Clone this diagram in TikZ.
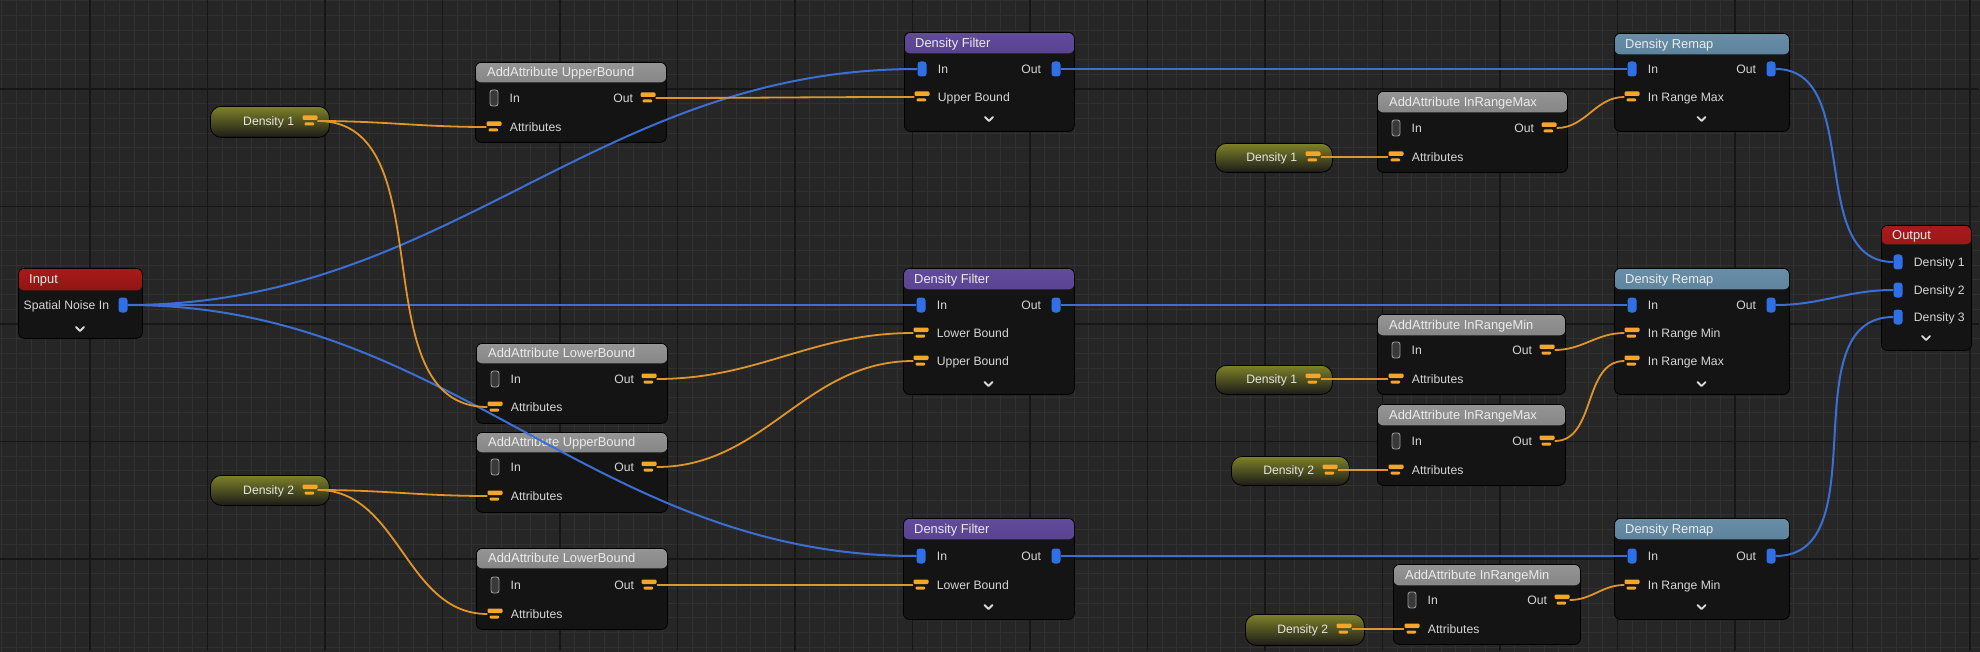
\documentclass[tikz,border=0pt]{standalone}
\usepackage{fontspec}
\setmainfont{Liberation Sans}
\usetikzlibrary{positioning}
\definecolor{gridbg}{HTML}{262626}
\definecolor{gridminor}{HTML}{313131}
\definecolor{gridmajor}{HTML}{161616}
\definecolor{nodebg}{HTML}{141414}
\definecolor{wireblue}{HTML}{3B6FD4}
\definecolor{wireorange}{HTML}{E0952B}
\definecolor{pinblue}{HTML}{2F70E8}
\definecolor{pinorange}{HTML}{F5A52A}
\definecolor{txtgray}{HTML}{D6D6D6}
\definecolor{hdrgraytop}{HTML}{959595}
\definecolor{hdrgraybot}{HTML}{5A5A5A}
\definecolor{hdrpurptop}{HTML}{624A9C}
\definecolor{hdrpurpbot}{HTML}{3A2766}
\definecolor{hdrbluetop}{HTML}{688EA8}
\definecolor{hdrbluebot}{HTML}{36566E}
\definecolor{hdrredtop}{HTML}{A81A1A}
\definecolor{hdrredbot}{HTML}{5E0909}
\definecolor{pilltop}{HTML}{7E8228}
\definecolor{pillmid}{HTML}{2F3022}
\definecolor{pillbot}{HTML}{1B1B19}

\begin{document}
\begin{tikzpicture}[
  x=1pt, y=-1pt,
  body/.style 2 args={rectangle, rounded corners=6pt, anchor=north west,
                 inner sep=0pt, minimum width=#1, minimum height=#2,
                 draw=black, line width=0.8pt, fill=nodebg},
  hdr/.style n args={3}{path picture={\shade[top color=#1, bottom color=#2]
      (path picture bounding box.north west) rectangle
      ([yshift=-#3]path picture bounding box.north east);}},
  const/.style 2 args={rectangle, rounded corners=11pt, anchor=north west,
                 inner sep=0pt, minimum width=#1, minimum height=#2,
                 draw=black, line width=0.8pt,
                 top color=pilltop, middle color=pillmid, bottom color=pillbot},
  htxt/.style={anchor=west, inner sep=0pt, text=white!92!black,
               font=\fontsize{12.9}{13}\selectfont, text height=9.2pt, text depth=0pt},
  lbl/.style={inner sep=0pt, text=txtgray,
              font=\fontsize{12.2}{13}\selectfont, text height=8.7pt, text depth=0pt},
  bpin/.style={rectangle, rounded corners=3pt, minimum width=9pt,
               minimum height=15pt, inner sep=0pt, fill=pinblue},
  gpin/.style={rectangle, rounded corners=2.5pt, minimum width=8pt,
               minimum height=16pt, inner sep=0pt, fill=gray!45!black,
               draw=gray!80, line width=0.9pt},
  opin/.style={rectangle, minimum width=15pt, minimum height=11pt, inner sep=0pt,
               path picture={
                 \fill[pinorange, rounded corners=1.2pt]
                   ([xshift=-7.5pt, yshift=5.5pt]path picture bounding box.center) rectangle
                   ([xshift=7.5pt, yshift=1pt]path picture bounding box.center);
                 \fill[pinorange, rounded corners=1pt]
                   ([xshift=-5.5pt, yshift=-1.5pt]path picture bounding box.center) rectangle
                   ([xshift=4pt, yshift=-4.5pt]path picture bounding box.center);}},
  chev/.style={draw=white!85!black, line width=1.8pt, line cap=round, line join=round},
  bw/.style={draw=wireblue, line width=2pt},
  ow/.style={draw=wireorange, line width=1.8pt}
]
\useasboundingbox (0,0) rectangle (1980,652);

% === Canvas: minor grid every 1/8 of a major cell (117.5px) ===
\fill[gridbg] (0,0) rectangle (1980,652);
\begin{scope}[shift={(1.875,0.875)}]
  \draw[gridminor, line width=1pt, step=14.6875pt] (-1.875,-0.875) grid (1978,651);
\end{scope}
\begin{scope}[shift={(90,89)}]
  \draw[gridmajor, line width=1.6pt, step=117.5pt] (-90,-89) grid (1889,562);
\end{scope}

% === Input ===
\node[body={124pt}{70pt}, hdr={hdrredtop}{hdrredbot}{22pt}] (inp) at (18,268) {};
\node[htxt] (inp-t) at (29,279) {Input};
\node[bpin] (inp-out) at (123,305) {};
\node[lbl, left=9pt of inp-out] (inp-l) {Spatial Noise In};
\draw[chev] (76,327) -- (80,331) -- (84,327);

% === Constants, left column ===
\node[const={119pt}{31pt}] (d1a) at (210,106) {};
\node[opin] (d1a-out) at (310,121) {};
\node[lbl, left=8pt of d1a-out, text=white!90!black] (d1a-l) {Density 1};

\node[const={119pt}{30pt}] (d2a) at (210,475) {};
\node[opin] (d2a-out) at (310,490) {};
\node[lbl, left=8pt of d2a-out, text=white!90!black] (d2a-l) {Density 2};

% === AddAttribute nodes, left column ===
\node[body={191pt}{80pt}, hdr={hdrgraytop}{hdrgraybot}{20pt}] (ubA) at (475,62) {};
\node[htxt] (ubA-t) at (487,72) {AddAttribute UpperBound};
\node[gpin] (ubA-in) at (494,98) {};
\node[opin] (ubA-out) at (648,98) {};
\node[opin] (ubA-attr) at (494,127) {};
\node[lbl, right=11pt of ubA-in] (ubA-l1) {In};
\node[lbl, left=7pt of ubA-out] (ubA-l2) {Out};
\node[lbl, right=8pt of ubA-attr] (ubA-l3) {Attributes};

\node[body={191pt}{80pt}, hdr={hdrgraytop}{hdrgraybot}{20pt}] (lbA) at (476,343) {};
\node[htxt] (lbA-t) at (488,353) {AddAttribute LowerBound};
\node[gpin] (lbA-in) at (495,379) {};
\node[opin] (lbA-out) at (649,379) {};
\node[opin] (lbA-attr) at (495,407) {};
\node[lbl, right=11pt of lbA-in] (lbA-l1) {In};
\node[lbl, left=7pt of lbA-out] (lbA-l2) {Out};
\node[lbl, right=8pt of lbA-attr] (lbA-l3) {Attributes};

\node[body={191pt}{80pt}, hdr={hdrgraytop}{hdrgraybot}{20pt}] (ubB) at (476,432) {};
\node[htxt] (ubB-t) at (488,442) {AddAttribute UpperBound};
\node[gpin] (ubB-in) at (495,467) {};
\node[opin] (ubB-out) at (649,467) {};
\node[opin] (ubB-attr) at (495,496) {};
\node[lbl, right=11pt of ubB-in] (ubB-l1) {In};
\node[lbl, left=7pt of ubB-out] (ubB-l2) {Out};
\node[lbl, right=8pt of ubB-attr] (ubB-l3) {Attributes};

\node[body={191pt}{81pt}, hdr={hdrgraytop}{hdrgraybot}{20pt}] (lbB) at (476,548) {};
\node[htxt] (lbB-t) at (488,558) {AddAttribute LowerBound};
\node[gpin] (lbB-in) at (495,585) {};
\node[opin] (lbB-out) at (649,585) {};
\node[opin] (lbB-attr) at (495,614) {};
\node[lbl, right=11pt of lbB-in] (lbB-l1) {In};
\node[lbl, left=7pt of lbB-out] (lbB-l2) {Out};
\node[lbl, right=8pt of lbB-attr] (lbB-l3) {Attributes};

% === Density Filter nodes ===
\node[body={170pt}{99pt}, hdr={hdrpurptop}{hdrpurpbot}{21pt}] (dfA) at (904,32) {};
\node[htxt] (dfA-t) at (915,42.5) {Density Filter};
\node[bpin] (dfA-in) at (922,69) {};
\node[bpin] (dfA-out) at (1056,69) {};
\node[opin] (dfA-ub) at (922,97) {};
\node[lbl, right=11pt of dfA-in] (dfA-l1) {In};
\node[lbl, left=10pt of dfA-out] (dfA-l2) {Out};
\node[lbl, right=8pt of dfA-ub] (dfA-l3) {Upper Bound};
\draw[chev] (985,117) -- (989,121) -- (993,117);

\node[body={171pt}{126pt}, hdr={hdrpurptop}{hdrpurpbot}{21pt}] (dfB) at (903,268) {};
\node[htxt] (dfB-t) at (914,278.5) {Density Filter};
\node[bpin] (dfB-in) at (921,305) {};
\node[bpin] (dfB-out) at (1056,305) {};
\node[opin] (dfB-lb) at (921,333) {};
\node[opin] (dfB-ub) at (921,361) {};
\node[lbl, right=11pt of dfB-in] (dfB-l1) {In};
\node[lbl, left=10pt of dfB-out] (dfB-l2) {Out};
\node[lbl, right=8pt of dfB-lb] (dfB-l3) {Lower Bound};
\node[lbl, right=8pt of dfB-ub] (dfB-l4) {Upper Bound};
\draw[chev] (984.5,382) -- (988.5,386) -- (992.5,382);

\node[body={171pt}{101pt}, hdr={hdrpurptop}{hdrpurpbot}{21pt}] (dfC) at (903,518) {};
\node[htxt] (dfC-t) at (914,528.5) {Density Filter};
\node[bpin] (dfC-in) at (921,556) {};
\node[bpin] (dfC-out) at (1056,556) {};
\node[opin] (dfC-lb) at (921,585) {};
\node[lbl, right=11pt of dfC-in] (dfC-l1) {In};
\node[lbl, left=10pt of dfC-out] (dfC-l2) {Out};
\node[lbl, right=8pt of dfC-lb] (dfC-l3) {Lower Bound};
\draw[chev] (984.5,605) -- (988.5,609) -- (992.5,605);

% === Constants, right column ===
\node[const={117pt}{29pt}] (d1b) at (1215,143) {};
\node[opin] (d1b-out) at (1313,157) {};
\node[lbl, left=8pt of d1b-out, text=white!90!black] (d1b-l) {Density 1};

\node[const={117pt}{29pt}] (d1c) at (1215,365) {};
\node[opin] (d1c-out) at (1313,379) {};
\node[lbl, left=8pt of d1c-out, text=white!90!black] (d1c-l) {Density 1};

\node[const={118pt}{29pt}] (d2b) at (1231,456) {};
\node[opin] (d2b-out) at (1330,470) {};
\node[lbl, left=8pt of d2b-out, text=white!90!black] (d2b-l) {Density 2};

\node[const={119pt}{31pt}] (d2c) at (1245,614) {};
\node[opin] (d2c-out) at (1344,629) {};
\node[lbl, left=8pt of d2c-out, text=white!90!black] (d2c-l) {Density 2};

% === AddAttribute nodes, right column ===
\node[body={190pt}{81pt}, hdr={hdrgraytop}{hdrgraybot}{21pt}] (maxA) at (1377,91) {};
\node[htxt] (maxA-t) at (1389,101.5) {AddAttribute InRangeMax};
\node[gpin] (maxA-in) at (1396,128) {};
\node[opin] (maxA-out) at (1549,128) {};
\node[opin] (maxA-attr) at (1396,157) {};
\node[lbl, right=11pt of maxA-in] (maxA-l1) {In};
\node[lbl, left=7pt of maxA-out] (maxA-l2) {Out};
\node[lbl, right=8pt of maxA-attr] (maxA-l3) {Attributes};

\node[body={188pt}{80pt}, hdr={hdrgraytop}{hdrgraybot}{21pt}] (minB) at (1377,314) {};
\node[htxt] (minB-t) at (1389,324.5) {AddAttribute InRangeMin};
\node[gpin] (minB-in) at (1396,350) {};
\node[opin] (minB-out) at (1547,350) {};
\node[opin] (minB-attr) at (1396,379) {};
\node[lbl, right=11pt of minB-in] (minB-l1) {In};
\node[lbl, left=7pt of minB-out] (minB-l2) {Out};
\node[lbl, right=8pt of minB-attr] (minB-l3) {Attributes};

\node[body={188pt}{81pt}, hdr={hdrgraytop}{hdrgraybot}{21pt}] (maxB) at (1377,404) {};
\node[htxt] (maxB-t) at (1389,414.5) {AddAttribute InRangeMax};
\node[gpin] (maxB-in) at (1396,441) {};
\node[opin] (maxB-out) at (1547,441) {};
\node[opin] (maxB-attr) at (1396,470) {};
\node[lbl, right=11pt of maxB-in] (maxB-l1) {In};
\node[lbl, left=7pt of maxB-out] (maxB-l2) {Out};
\node[lbl, right=8pt of maxB-attr] (maxB-l3) {Attributes};

\node[body={187pt}{80pt}, hdr={hdrgraytop}{hdrgraybot}{21pt}] (minC) at (1393,564) {};
\node[htxt] (minC-t) at (1405,574.5) {AddAttribute InRangeMin};
\node[gpin] (minC-in) at (1412,600) {};
\node[opin] (minC-out) at (1562,600) {};
\node[opin] (minC-attr) at (1412,629) {};
\node[lbl, right=11pt of minC-in] (minC-l1) {In};
\node[lbl, left=7pt of minC-out] (minC-l2) {Out};
\node[lbl, right=8pt of minC-attr] (minC-l3) {Attributes};

% === Density Remap nodes ===
\node[body={175pt}{98pt}, hdr={hdrbluetop}{hdrbluebot}{21pt}] (drA) at (1614,33) {};
\node[htxt] (drA-t) at (1625,43.5) {Density Remap};
\node[bpin] (drA-in) at (1632,69) {};
\node[bpin] (drA-out) at (1771,69) {};
\node[opin] (drA-max) at (1632,97) {};
\node[lbl, right=11pt of drA-in] (drA-l1) {In};
\node[lbl, left=10pt of drA-out] (drA-l2) {Out};
\node[lbl, right=8pt of drA-max] (drA-l3) {In Range Max};
\draw[chev] (1697.5,117) -- (1701.5,121) -- (1705.5,117);

\node[body={175pt}{126pt}, hdr={hdrbluetop}{hdrbluebot}{21pt}] (drB) at (1614,268) {};
\node[htxt] (drB-t) at (1625,278.5) {Density Remap};
\node[bpin] (drB-in) at (1632,305) {};
\node[bpin] (drB-out) at (1771,305) {};
\node[opin] (drB-min) at (1632,333) {};
\node[opin] (drB-max) at (1632,361) {};
\node[lbl, right=11pt of drB-in] (drB-l1) {In};
\node[lbl, left=10pt of drB-out] (drB-l2) {Out};
\node[lbl, right=8pt of drB-min] (drB-l3) {In Range Min};
\node[lbl, right=8pt of drB-max] (drB-l4) {In Range Max};
\draw[chev] (1697.5,382) -- (1701.5,386) -- (1705.5,382);

\node[body={175pt}{101pt}, hdr={hdrbluetop}{hdrbluebot}{21pt}] (drC) at (1614,518) {};
\node[htxt] (drC-t) at (1625,528.5) {Density Remap};
\node[bpin] (drC-in) at (1632,556) {};
\node[bpin] (drC-out) at (1771,556) {};
\node[opin] (drC-min) at (1632,585) {};
\node[lbl, right=11pt of drC-in] (drC-l1) {In};
\node[lbl, left=10pt of drC-out] (drC-l2) {Out};
\node[lbl, right=8pt of drC-min] (drC-l3) {In Range Min};
\draw[chev] (1697.5,605) -- (1701.5,609) -- (1705.5,605);

% === Output ===
\node[body={90pt}{125pt}, hdr={hdrredtop}{hdrredbot}{19pt}] (outp) at (1881,225) {};
\node[htxt] (outp-t) at (1892,234.5) {Output};
\node[bpin] (outp-1) at (1898,262) {};
\node[bpin] (outp-2) at (1898,290) {};
\node[bpin] (outp-3) at (1898,317) {};
\node[lbl, right=11pt of outp-1] (outp-l1) {Density 1};
\node[lbl, right=11pt of outp-2] (outp-l2) {Density 2};
\node[lbl, right=11pt of outp-3] (outp-l3) {Density 3};
\draw[chev] (1922,336) -- (1926,340) -- (1930,336);

% === Spatial data wires ===
\draw[bw] (inp-out) to[out=0, in=180] (dfA-in);
\draw[bw] (inp-out) to[out=0, in=180] (dfB-in);
\draw[bw] (inp-out) to[out=0, in=180] (dfC-in);
\draw[bw] (dfA-out) to[out=0, in=180] (drA-in);
\draw[bw] (dfB-out) to[out=0, in=180] (drB-in);
\draw[bw] (dfC-out) to[out=0, in=180] (drC-in);
\draw[bw] (drA-out) to[out=0, in=180] (outp-1);
\draw[bw] (drB-out) to[out=0, in=180] (outp-2);
\draw[bw] (drC-out) to[out=0, in=180] (outp-3);

% === Attribute wires ===
\draw[ow] (d1a-out) to[out=0, in=180] (ubA-attr);
\draw[ow] (d1a-out) to[out=0, in=180] (lbA-attr);
\draw[ow] (d2a-out) to[out=0, in=180] (ubB-attr);
\draw[ow] (d2a-out) to[out=0, in=180] (lbB-attr);
\draw[ow] (ubA-out) to[out=0, in=180] (dfA-ub);
\draw[ow] (lbA-out) to[out=0, in=180] (dfB-lb);
\draw[ow] (ubB-out) to[out=0, in=180] (dfB-ub);
\draw[ow] (lbB-out) to[out=0, in=180] (dfC-lb);
\draw[ow] (d1b-out) to[out=0, in=180] (maxA-attr);
\draw[ow] (d1c-out) to[out=0, in=180] (minB-attr);
\draw[ow] (d2b-out) to[out=0, in=180] (maxB-attr);
\draw[ow] (d2c-out) to[out=0, in=180] (minC-attr);
\draw[ow] (maxA-out) to[out=0, in=180] (drA-max);
\draw[ow] (minB-out) to[out=0, in=180] (drB-min);
\draw[ow] (maxB-out) to[out=0, in=180] (drB-max);
\draw[ow] (minC-out) to[out=0, in=180] (drC-min);

\end{tikzpicture}
\end{document}
